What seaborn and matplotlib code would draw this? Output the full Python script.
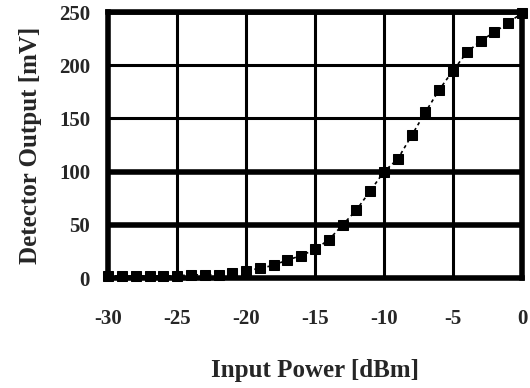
import matplotlib
matplotlib.use("Agg")
import matplotlib.pyplot as plt
import seaborn as sns
import pandas as pd

input_power = [-30, -29, -28, -27, -26, -25, -24, -23, -22, -21, -20, -19, -18, -17, -16,
               -15, -14, -13, -12, -11, -10, -9, -8, -7, -6, -5, -4, -3, -2, -1, 0]
detector_mv = [2, 2, 2, 2, 2, 2, 3, 3, 3, 5, 7, 9, 12, 17, 21,
               27, 36, 50, 64, 82, 100, 112, 134, 156, 177, 195, 212, 223, 231, 240, 249]
x_ticks = [-30, -25, -20, -15, -10, -5, 0]
y_ticks = [0, 50, 100, 150, 200, 250]

df = pd.DataFrame({"p": input_power, "v": detector_mv})

sns.set_style("white")
plt.rcParams["font.family"] = ["Liberation Serif", "DejaVu Serif"]

fig = plt.figure(figsize=(5.3, 3.88), dpi=100)
ax = fig.add_axes([0.204, 0.2835, 0.781, 0.6855])

sns.lineplot(data=df, x="p", y="v", ax=ax, color="black", marker="s",
             markersize=7, markeredgecolor="black", linestyle=(0, (2, 2)),
             linewidth=1.2, clip_on=False, zorder=5)

ax.set_xlim(-30, 0)
ax.set_ylim(0, 250)
ax.set_xticks(x_ticks)
ax.set_yticks(y_ticks)
ax.set_xticklabels([str(t) for t in x_ticks], fontsize=15, fontweight="bold")
ax.set_yticklabels([str(t) for t in y_ticks], fontsize=15, fontweight="bold")
ax.tick_params(axis="x", length=0, pad=22)
ax.tick_params(axis="y", length=0, pad=13)

ax.grid(True, color="black", linewidth=2.2)
ylw = [2.5, 4, 4, 2.2, 2.2, 4]
for gl, lw in zip(ax.yaxis.get_gridlines(), ylw):
    gl.set_linewidth(lw)
for sp in ax.spines.values():
    sp.set_visible(True)
    sp.set_color("black")
    sp.set_linewidth(4)

ax.set_xlabel("Input Power [dBm]", fontsize=18, fontweight="bold", labelpad=22)
ax.set_ylabel("Detector Output [mV]", fontsize=18, fontweight="bold", labelpad=12)

fig.savefig("out.png", dpi=100)
